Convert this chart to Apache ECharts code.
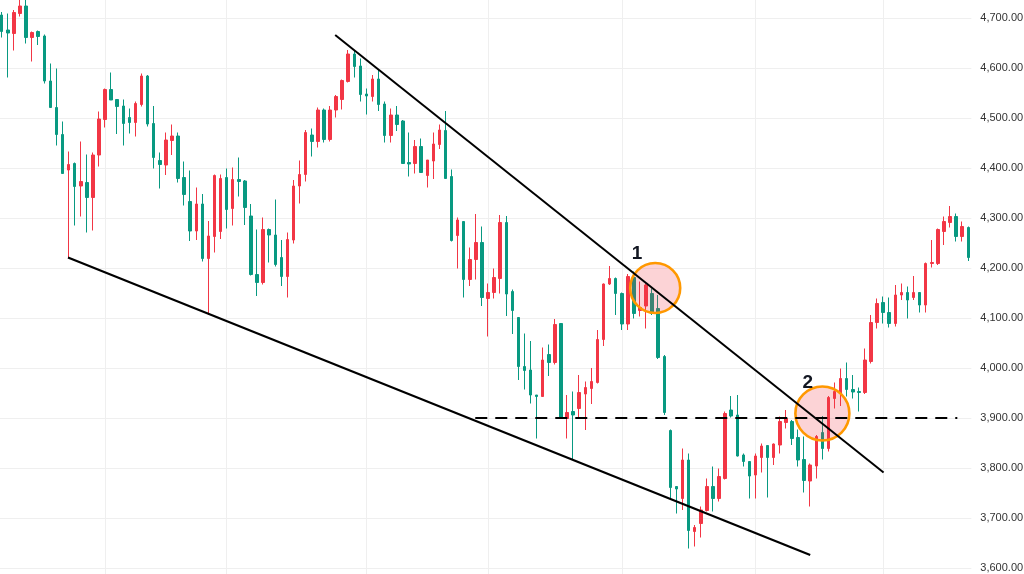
<!DOCTYPE html>
<html>
<head>
<meta charset="utf-8">
<script src="https://cdn.jsdelivr.net/npm/echarts@6/dist/echarts.min.js"></script>
<style>
html,body{margin:0;padding:0;background:#fff;}
#chart{width:1024px;height:574px;}
</style>
</head>
<body>
<div id="chart"></div>
<script>
// ---- candle data (open, close, low, high) ----
const opens = [4706,4676,4669,4709,4724,4661,4673,4664,4574,4521,4467,4396,4409,4364,4371,4341,4426,4497,4557,4537,
4524,4501,4491,4527,4584,4489,4415,4406,4455,4464,4381,4333,4274,4328,4219,4263,4273,4381,4319,4377,
4374,4304,4187,4171,4277,4266,4221,4183,4256,4364,4387,4466,4453,4516,4457,4516,4537,4573,4628,4604,
4548,4543,4578,4528,4465,4506,4494,4411,4409,4443,4385,4414,4447,4475,4383,4265,4293,4177,4217,4251,
4139,4151,4179,4291,4153,4101,4003,3996,3946,3943,4027,4011,4089,3899,3913,3919,3948,3959,3971,4057,
4168,4179,4149,4088,4181,4115,4124,4149,4119,4023,3875,3763,3739,3816,3673,3689,3715,3763,3739,3779,
3916,3906,3826,3813,3786,3821,3845,3821,3846,3891,3893,3861,3817,3774,3804,3871,3839,3939,3949,3979,
3957,3953,3951,4013,4091,4131,4111,4089,4146,4151,4141,4151,4126,4209,4209,4273,4291,4303,4263,4281];
const closes = [4673,4670,4711,4724,4661,4671,4663,4574,4521,4467,4389,4407,4363,4373,4341,4426,4498,4557,4536,4523,
4489,4491,4529,4584,4488,4421,4407,4456,4464,4379,4347,4274,4328,4219,4264,4385,4379,4317,4377,4373,
4321,4187,4171,4277,4266,4207,4183,4257,4364,4387,4471,4453,4516,4457,4516,4543,4575,4628,4603,4547,
4544,4578,4527,4465,4506,4487,4409,4408,4443,4391,4416,4448,4476,4379,4255,4296,4177,4217,4251,4141,
4151,4181,4291,4148,4115,4003,3995,3946,3943,4016,4011,4087,3899,3911,3906,3951,3961,3973,4057,4168,
4179,4149,4088,4183,4109,4121,4166,4109,4021,3911,3761,3758,3816,3675,3681,3716,3763,3739,3783,3909,
3904,3824,3813,3784,3824,3844,3821,3848,3893,3899,3859,3816,3775,3806,3863,3839,3941,3953,3979,3957,
3952,3951,4016,4091,4129,4111,4089,4146,4151,4136,4151,4126,4209,4211,4277,4293,4303,4263,4283,4221];
const lows = [4661,4581,4635,4703,4649,4613,4646,4569,4521,4445,4389,4221,4285,4303,4271,4275,4403,4481,4536,4468,
4445,4469,4463,4523,4483,4399,4359,4386,4426,4371,4325,4254,4256,4213,4106,4231,4258,4279,4285,4343,
4286,4185,4144,4167,4211,4203,4164,4141,4249,4329,4373,4423,4441,4451,4453,4501,4517,4571,4581,4533,
4507,4533,4514,4451,4451,4474,4409,4383,4389,4391,4361,4378,4438,4379,4253,4199,4141,4164,4177,4124,
4063,4139,4149,4104,4068,3976,3957,3929,3859,3943,3984,4007,3899,3859,3816,3899,3876,3928,3969,4044,
4166,4106,4076,4076,4099,4103,4079,4106,4018,3906,3739,3709,3716,3639,3643,3661,3713,3713,3733,3777,
3901,3823,3803,3739,3739,3791,3741,3806,3829,3879,3846,3803,3751,3723,3779,3817,3833,3919,3924,3943,
3939,3913,3948,4009,4079,4089,4081,4083,4136,4099,4136,4111,4111,4201,4206,4246,4281,4253,4253,4214];
const highs = [4712,4709,4716,4745,4745,4673,4675,4667,4609,4599,4493,4433,4411,4453,4427,4431,4513,4559,4591,4537,
4537,4519,4533,4589,4586,4524,4431,4471,4487,4471,4413,4395,4361,4348,4294,4387,4387,4399,4401,4421,
4376,4328,4277,4301,4279,4337,4256,4271,4376,4415,4476,4479,4521,4519,4524,4546,4577,4636,4635,4619,
4559,4586,4596,4533,4519,4524,4496,4471,4456,4459,4416,4471,4487,4514,4397,4301,4293,4241,4308,4283,
4169,4199,4306,4304,4157,4101,4069,4054,3946,4041,4047,4098,4089,3946,3953,3986,3973,4000,4076,4169,
4204,4181,4151,4188,4193,4173,4169,4159,4146,4026,3877,3763,3839,3829,3686,3723,3779,3803,3799,3913,
3944,3946,3829,3813,3829,3849,3845,3849,3903,3916,3896,3877,3863,3809,3866,3904,3944,3971,3999,4011,
3986,3961,4039,4106,4139,4143,4141,4166,4169,4163,4184,4151,4211,4256,4279,4303,4324,4309,4293,4283];
const categories = opens.map((_, i) => String(i + 1));
// indices (0-based) where vertical grid lines fall
const monthStarts = [17, 37, 60, 80, 102, 124, 145];
// y tick labels
const yTicks = [3600, 3700, 3800, 3900, 4000, 4100, 4200, 4300, 4400, 4500, 4600, 4700];

// ---- annotations (x = candle index, y = price) ----
const upperTrend = [[54.85, 4666], [145.07, 3791]];
const lowerTrend = [[10.9, 4221], [133.0, 3626]];
const levelLine = [[77.9, 3900], [157.2, 3900]];
const circles = [[107.5, 4160], [135.0, 3909]];
const circleSizes = [50, 54];
const markerLabels = [[104.5, 4228, '1'], [132.6, 3971, '2']];

const candleData = opens.map((o, i) => [o, closes[i], lows[i], highs[i]]);

function fmt(v) {
  return v.toFixed(2).replace(/\B(?=(\d{3})+(?!\d))/g, ',');
}

const chart = echarts.init(document.getElementById('chart'), null, {renderer: 'canvas'});
chart.setOption({
  animation: false,
  backgroundColor: '#ffffff',
  grid: {left: -1.3, right: 52.7, top: -32, bottom: -44, containLabel: false, outerBoundsMode: 'none'},
  xAxis: [{
    type: 'category',
    data: categories,
    boundaryGap: true,
    axisLine: {show: false},
    axisTick: {show: false},
    axisLabel: {show: false},
    splitLine: {
      show: true,
      alignWithLabel: true,
      interval: function (idx) { return monthStarts.indexOf(idx) >= 0; },
      lineStyle: {color: '#efefef', width: 1}
    }
  }, {
    type: 'value',
    min: -0.5,
    max: opens.length - 0.5,
    show: false
  }],
  yAxis: {
    type: 'value',
    position: 'right',
    min: 3500,
    max: 4800,
    interval: 100,
    axisLine: {show: false},
    axisTick: {show: false},
    splitLine: {lineStyle: {color: '#efefef', width: 1}},
    axisLabel: {
      margin: 9,
      color: '#333333',
      fontSize: 11,
      fontFamily: 'Liberation Sans, Arial, sans-serif',
      formatter: function (v) { return yTicks.indexOf(v) >= 0 ? fmt(v) : ''; }
    }
  },
  series: [{
    type: 'candlestick',
    data: candleData,
    barWidth: 3,
    z: 2,
    itemStyle: {
      color: '#F23645',
      color0: '#089981',
      borderColor: '#F23645',
      borderColor0: '#089981',
      borderWidth: 1
    }
  }, {
    type: 'scatter',
    xAxisIndex: 1,
    data: circles,
    symbol: 'circle',
    symbolSize: function (v, p) { return circleSizes[p.dataIndex]; },
    z: 3,
    silent: true,
    itemStyle: {color: 'rgba(242,54,69,0.22)', borderColor: '#FF9800', borderWidth: 2.6, opacity: 1}
  }, {
    type: 'line',
    xAxisIndex: 1,
    data: upperTrend,
    symbol: 'none',
    z: 4,
    silent: true,
    lineStyle: {color: '#000000', width: 2}
  }, {
    type: 'line',
    xAxisIndex: 1,
    data: lowerTrend,
    symbol: 'none',
    z: 4,
    silent: true,
    lineStyle: {color: '#000000', width: 2.2}
  }, {
    type: 'line',
    xAxisIndex: 1,
    data: levelLine,
    symbol: 'none',
    z: 4,
    silent: true,
    lineStyle: {color: '#000000', width: 2, type: [12, 8]}
  }, {
    type: 'scatter',
    xAxisIndex: 1,
    data: markerLabels.map(d => ({value: [d[0], d[1]], name: d[2]})),
    symbolSize: 1,
    z: 5,
    silent: true,
    itemStyle: {opacity: 0},
    label: {
      show: true,
      position: 'inside',
      formatter: '{b}',
      color: '#131722',
      opacity: 1,
      fontSize: 19,
      fontWeight: 'bold',
      fontFamily: 'Liberation Sans, Arial, sans-serif'
    }
  }]
});
</script>
</body>
</html>
